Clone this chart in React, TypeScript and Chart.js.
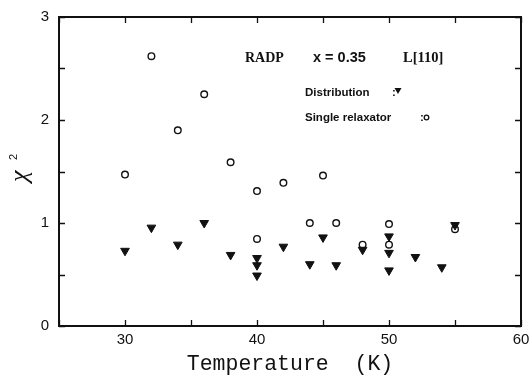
import React, { useEffect, useRef } from "react";
import { Chart, registerables } from "chart.js";

Chart.register(...registerables);

const distTemps = [30, 32, 34, 36, 38, 40, 40, 40, 42, 44, 45, 46, 48, 50, 50, 50, 52, 54, 55];
const distChi = [0.73, 0.955, 0.79, 1.0, 0.69, 0.66, 0.59, 0.49, 0.77, 0.6, 0.86, 0.59, 0.74, 0.87, 0.71, 0.54, 0.67, 0.57, 0.98];
const singleTemps = [30, 32, 34, 36, 38, 40, 40, 42, 44, 45, 46, 48, 50, 50, 55];
const singleChi = [1.47, 2.62, 1.9, 2.25, 1.59, 1.31, 0.845, 1.39, 1.0, 1.46, 1.0, 0.79, 0.99, 0.79, 0.94];
const xLabelTicks = [30, 40, 50, 60];
const yLabelTicks = [0, 1, 2, 3];
const xTitle = "Temperature  (K)";
const sampleText = "RADP";
const compText = "x = 0.35";
const dirText = "L[110]";
const distLabel = "Distribution";
const singleLabel = "Single relaxator";

const INK = "#111";

const framePlugin = {
  id: "frameAndText",
  afterDatasetsDraw(chart: any) {
    const { ctx, chartArea: a, scales } = chart;
    const xs = scales.x;
    const ys = scales.y;
    ctx.save();
    ctx.strokeStyle = INK;
    ctx.lineWidth = 2;
    ctx.strokeRect(a.left, a.top, a.right - a.left, a.bottom - a.top);
    ctx.lineWidth = 1.3;
    const tl = 6;
    for (let v = 25; v <= 60; v += 5) {
      const px = Math.round(xs.getPixelForValue(v)) + 0.5;
      ctx.beginPath();
      ctx.moveTo(px, a.bottom);
      ctx.lineTo(px, a.bottom - tl);
      ctx.moveTo(px, a.top);
      ctx.lineTo(px, a.top + tl);
      ctx.stroke();
    }
    for (let v = 0; v <= 3; v += 0.5) {
      const py = Math.round(ys.getPixelForValue(v)) + 0.5;
      ctx.beginPath();
      ctx.moveTo(a.left, py);
      ctx.lineTo(a.left + tl, py);
      ctx.moveTo(a.right, py);
      ctx.lineTo(a.right - tl, py);
      ctx.stroke();
    }
    ctx.fillStyle = INK;
    ctx.textBaseline = "alphabetic";
    ctx.textAlign = "left";
    ctx.font = "bold 14px 'Liberation Serif'";
    ctx.fillText(sampleText, 245, 62);
    ctx.font = "bold 14.5px 'Liberation Sans'";
    ctx.fillText(compText, 313, 62);
    ctx.font = "bold 14.5px 'Liberation Serif'";
    ctx.fillText(dirText, 403, 62);
    ctx.font = "bold 11.5px 'Liberation Sans'";
    ctx.fillText(distLabel, 305, 96);
    ctx.fillText(":", 392, 96);
    ctx.fillText(singleLabel, 305, 121);
    ctx.fillText(":", 420, 121);
    // legend markers
    ctx.beginPath();
    ctx.moveTo(394.5, 88);
    ctx.lineTo(401.5, 88);
    ctx.lineTo(398, 94);
    ctx.closePath();
    ctx.fill();
    ctx.lineWidth = 1.3;
    ctx.beginPath();
    ctx.arc(426.5, 117.5, 2.3, 0, Math.PI * 2);
    ctx.stroke();
    // x axis title
    ctx.font = "21.5px 'Liberation Mono'";
    ctx.textAlign = "center";
    ctx.fillText(xTitle, 290, 370);
    // y axis title (rotated)
    ctx.textAlign = "left";
    ctx.save();
    ctx.translate(27, 182);
    ctx.rotate(-Math.PI / 2);
    ctx.font = "italic 26px 'Liberation Serif'";
    ctx.fillText("\u03c7", 0, 0);
    ctx.font = "11px 'Liberation Sans'";
    ctx.fillText("2", 22, -10);
    ctx.restore();
    ctx.restore();
  },
};

export default function App() {
  const ref = useRef<HTMLCanvasElement | null>(null);
  useEffect(() => {
    if (!ref.current) return;
    const chart = new Chart(ref.current, {
      type: "scatter",
      data: {
        datasets: [
          {
            label: singleLabel,
            data: singleTemps.map((t, i) => ({ x: t, y: singleChi[i] })),
            pointStyle: "circle",
            pointRadius: 3.3,
            borderWidth: 1.4,
            borderColor: INK,
            backgroundColor: "rgba(255,255,255,0)",
          },
          {
            label: distLabel,
            data: distTemps.map((t, i) => ({ x: t, y: distChi[i] })),
            pointStyle: "triangle",
            pointRotation: 180,
            pointRadius: 5,
            borderWidth: 1,
            borderColor: INK,
            backgroundColor: INK,
          },
        ],
      },
      options: {
        animation: false,
        responsive: true,
        maintainAspectRatio: false,
        layout: { padding: { top: 17, right: 9, left: 0, bottom: 0 } },
        plugins: {
          legend: { display: false },
          tooltip: { enabled: false },
        },
        scales: {
          x: {
            type: "linear",
            min: 25,
            max: 60,
            afterFit: (s: any) => {
              s.height = 51;
              s.paddingLeft = 0;
              s.paddingRight = 0;
            },
            grid: { display: false, drawTicks: false },
            border: { display: false },
            ticks: {
              stepSize: 5,
              padding: 5,
              color: INK,
              font: { family: "'Liberation Sans'", size: 15 },
              callback: (v: any) => (xLabelTicks.includes(Number(v)) ? String(v) : ""),
              maxRotation: 0,
              autoSkip: false,
            },
          },
          y: {
            type: "linear",
            min: 0,
            max: 3,
            afterFit: (s: any) => {
              s.width = 59;
              s.paddingTop = 0;
              s.paddingBottom = 0;
            },
            grid: { display: false, drawTicks: false },
            border: { display: false },
            ticks: {
              stepSize: 0.5,
              padding: 10,
              color: INK,
              font: { family: "'Liberation Sans'", size: 15 },
              callback: (v: any) => (yLabelTicks.includes(Number(v)) ? String(v) : ""),
              autoSkip: false,
            },
          },
        },
      },
      plugins: [framePlugin],
    });
    return () => chart.destroy();
  }, []);
  return (
    <div style={{ position: "absolute", left: 0, top: 0, width: 530, height: 377, background: "#fff" }}>
      <canvas ref={ref} />
    </div>
  );
}
